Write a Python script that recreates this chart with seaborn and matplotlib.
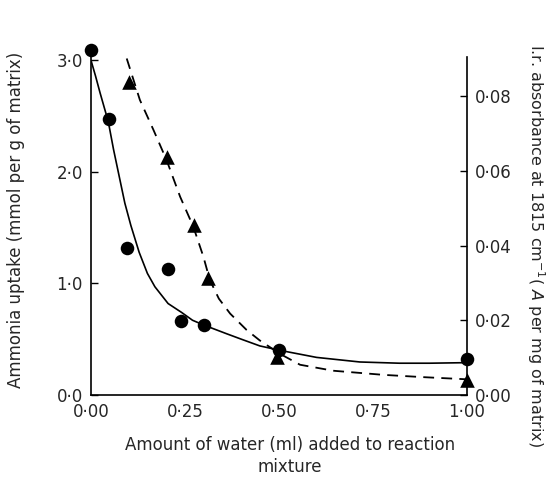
import matplotlib
matplotlib.use("Agg")
import matplotlib.pyplot as plt
import seaborn as sns
import pandas as pd

# ---- data ----
# Ammonia uptake (left axis, circles)
circ_x = [0.00, 0.047, 0.095, 0.206, 0.239, 0.30, 0.50, 1.00]
circ_y = [3.09, 2.47, 1.32, 1.13, 0.66, 0.63, 0.40, 0.32]
# I.r. absorbance (right axis, triangles)
tri_x = [0.102, 0.203, 0.274, 0.312, 0.494, 1.00]
tri_y = [0.0839, 0.0638, 0.0455, 0.0312, 0.0103, 0.0040]
# hand-drawn solid curve (left axis)
solid_x = [0.00, 0.012, 0.024, 0.046, 0.060, 0.075, 0.090, 0.106, 0.128, 0.150, 0.170,
           0.205, 0.241, 0.27, 0.30, 0.36, 0.40, 0.449, 0.503, 0.60, 0.715, 0.82, 0.90, 1.00]
solid_y = [3.00, 2.86, 2.71, 2.45, 2.20, 1.96, 1.72, 1.52, 1.28, 1.09, 0.97,
           0.82, 0.74, 0.67, 0.627, 0.55, 0.50, 0.44, 0.40, 0.337, 0.296, 0.285, 0.285, 0.29]
# hand-drawn dashed curve (right axis)
dash_x = [0.095, 0.130, 0.166, 0.201, 0.237, 0.272, 0.299, 0.316, 0.34, 0.37, 0.414,
          0.449, 0.503, 0.556, 0.644, 0.777, 0.88, 1.00]
dash_y = [0.0901, 0.0790, 0.0710, 0.0629, 0.0531, 0.0451, 0.0370, 0.0308, 0.0258, 0.0218,
          0.0174, 0.0146, 0.0110, 0.0081, 0.0065, 0.0054, 0.0048, 0.0042]

x_ticks = [0.00, 0.25, 0.50, 0.75, 1.00]
x_ticklabels = ["0·00", "0·25", "0·50", "0·75", "1·00"]
left_ticks = [0.0, 1.0, 2.0, 3.0]
left_ticklabels = ["0·0", "1·0", "2·0", "3·0"]
right_ticks = [0.00, 0.02, 0.04, 0.06, 0.08]
right_ticklabels = ["0·00", "0·02", "0·04", "0·06", "0·08"]

x_label = "Amount of water (ml) added to reaction\nmixture"
left_label = "Ammonia uptake (mmol per g of matrix)"
right_label = "I.r. absorbance at 1815 cm$^{-1}$( $\\it{A}$ per mg of matrix)"

sns.set_style("white")
plt.rcParams["font.family"] = ["DejaVu Sans"]

fig = plt.figure(figsize=(5.53, 4.8), dpi=100)
ax = fig.add_axes([91 / 553, 1 - 395 / 480, (467 - 91) / 553, (395 - 57) / 480])
ax2 = ax.twinx()

circ = pd.DataFrame({"x": circ_x, "y": circ_y})
tri = pd.DataFrame({"x": tri_x, "y": tri_y})
sol = pd.DataFrame({"x": solid_x, "y": solid_y})
das = pd.DataFrame({"x": dash_x, "y": dash_y})

sns.lineplot(data=sol, x="x", y="y", ax=ax, color="black", lw=1.2, sort=False,
             estimator=None)
sns.scatterplot(data=circ, x="x", y="y", ax=ax, color="black", marker="o", s=95,
                edgecolor="black", linewidth=0, clip_on=False, zorder=5)
sns.lineplot(data=das, x="x", y="y", ax=ax2, color="black", lw=1.3, sort=False,
             estimator=None)
ax2.lines[-1].set_dashes([6, 4])
sns.scatterplot(data=tri, x="x", y="y", ax=ax2, color="black", marker="^", s=110,
                edgecolor="black", linewidth=0, clip_on=False, zorder=5)

ax.set_xlim(0, 1.0)
ax.set_ylim(0, 3.03)
ax2.set_ylim(0, 0.0905)

ax.set_xticks(x_ticks)
ax.set_xticklabels(x_ticklabels, fontsize=12)
ax.set_yticks(left_ticks)
ax.set_yticklabels(left_ticklabels, fontsize=12)
ax2.set_yticks(right_ticks)
ax2.set_yticklabels(right_ticklabels, fontsize=12)

for a in (ax, ax2):
    a.tick_params(direction="in", length=5, width=1, color="black", pad=6)
    a.set_xlabel("")
    a.set_ylabel("")
    a.spines["top"].set_visible(False)
    for s in ("left", "right", "bottom"):
        a.spines[s].set_color("black")
        a.spines[s].set_linewidth(1.2)
ax.spines["right"].set_visible(False)
ax2.spines["left"].set_visible(False)
ax2.spines["bottom"].set_visible(False)
ax.tick_params(axis="y", right=False)
ax2.tick_params(axis="y", left=False, right=True)

fig.text(290 / 553, 1 - 456 / 480, x_label, ha="center", va="center", fontsize=12,
         linespacing=1.35)
fig.text(16 / 553, 1 - 220 / 480, left_label, ha="center", va="center", rotation=90,
         fontsize=12)
fig.text(536 / 553, 1 - 245 / 480, right_label, ha="center", va="center",
         rotation=-90, fontsize=11.5)

fig.savefig("out.png", dpi=100)
